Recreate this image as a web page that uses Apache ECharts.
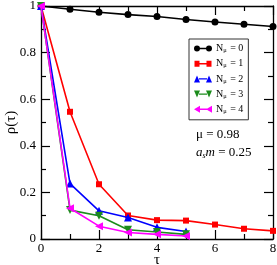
<!DOCTYPE html>
<html><head><meta charset="utf-8">
<script src="https://cdn.jsdelivr.net/npm/echarts@6/dist/echarts.min.js"></script>
<style>html,body{margin:0;padding:0;background:#fff}#c{width:277px;height:265px}</style>
</head><body><div id="c"></div>
<script>
const tau = [0, 1, 2, 3, 4, 5, 6, 7, 8];
const rhoN0 = [1, 0.986, 0.973, 0.963, 0.955, 0.942, 0.931, 0.922, 0.912];
const rhoN1 = [1, 0.546, 0.235, 0.101, 0.081, 0.079, 0.062, 0.044, 0.035];
const rhoN2 = [1, 0.238, 0.121, 0.092, 0.050, 0.032];
const rhoN3 = [1, 0.124, 0.100, 0.040, 0.030, 0.020];
const rhoN4 = [1, 0.132, 0.055, 0.028, 0.020, 0.013];
const seriesNames = ['N0', 'N1', 'N2', 'N3', 'N4'];
const legendLabels = ['0', '1', '2', '3', '4'];
const xTicks = [0, 2, 4, 6, 8];
const yTicks = [0, 0.2, 0.4, 0.6, 0.8, 1];

const colors = ['#000000', '#ff0000', '#0000ff', '#1c8c1c', '#ff00ff'];
const bar = 'M5,3.3 H13 V4.7 H5 Z ';
const icons = [
  'path://' + bar + 'M0,4 A3,3 0 1 1 6,4 A3,3 0 1 1 0,4 Z M12,4 A3,3 0 1 1 18,4 A3,3 0 1 1 12,4 Z M0,0.5 L0,0.5 Z M18,7.5 L18,7.5Z',
  'path://' + bar + 'M0.5,1 H5.5 V7 H0.5 Z M12.5,1 H17.5 V7 H12.5 Z M0,0.5 L0,0.5 Z M18,7.5 L18,7.5Z',
  'path://' + bar + 'M0,7.5 L3,0.5 L6,7.5 Z M12,7.5 L15,0.5 L18,7.5 Z',
  'path://' + bar + 'M0,0.5 L6,0.5 L3,7.5 Z M12,0.5 L18,0.5 L15,7.5 Z',
  'path://' + bar + 'M0,4 L6,0.5 L6,7.5 Z M12,4 L18,0.5 L18,7.5 Z'
];
const datasets = [rhoN0, rhoN1, rhoN2, rhoN3, rhoN4];
const symbols = ['circle', 'rect', 'triangle', 'triangle', 'triangle'];
const symbolSizes = [7, 6, 8, 8, 8];
const rotations = [0, 0, 0, 180, 90];

const font = 'Liberation Serif';
const fmtY = v => { const r = Math.round(v * 10) / 10; return String(r); };

const axisCommon = (isX, show) => ({
  type: 'value',
  min: 0,
  max: isX ? 8 : 1,
  interval: isX ? 2 : 0.2,
  axisLine: { show: true, onZero: false, lineStyle: { color: '#000', width: 1.3 } },
  axisTick: { show: true, inside: true, length: 9, lineStyle: { color: '#000', width: 1.2 } },
  minorTick: { show: true, splitNumber: 2, length: 5, lineStyle: { color: '#000', width: 1.2 } },
  splitLine: { show: false },
  axisLabel: {
    show: show, color: '#000', fontFamily: font, fontSize: 13, margin: isX ? 3 : 5,
    formatter: isX ? (v => String(v)) : fmtY, showMinLabel: true, showMaxLabel: true
  }
});

const xMain = Object.assign(axisCommon(true, true), {
  position: 'bottom', name: 'τ', nameLocation: 'middle', nameGap: 14, nameMoveOverlap: false,
  nameTextStyle: { fontFamily: font, fontSize: 15, color: '#000' }
});
const xTop = Object.assign(axisCommon(true, false), { position: 'top' });
const yMain = Object.assign(axisCommon(false, true), {
  position: 'left', name: 'ρ(τ)', nameLocation: 'middle', nameGap: 22, nameMoveOverlap: false,
  nameTextStyle: { fontFamily: font, fontSize: 15, color: '#000' }
});
const yRight = Object.assign(axisCommon(false, false), { position: 'right' });

const series = datasets.map((d, i) => ({
  name: seriesNames[i],
  type: 'line',
  xAxisIndex: 0, yAxisIndex: 0,
  data: d.map((v, k) => [tau[k], v]),
  symbol: symbols[i],
  symbolSize: symbolSizes[i],
  symbolRotate: rotations[i],
  showAllSymbol: true,
  lineStyle: { color: colors[i], width: 1.6 },
  itemStyle: { color: colors[i] },
  emphasis: { disabled: true },
  animation: false,
  z: 2 + i
}));

const chart = echarts.init(document.getElementById('c'), null, { renderer: 'canvas' });
chart.setOption({
  animation: false,
  grid: { left: 41, right: 4, top: 6, bottom: 26, containLabel: false, outerBoundsMode: 'none' },
  xAxis: [xMain, xTop],
  yAxis: [yMain, yRight],
  legend: {
    orient: 'vertical',
    left: 189, top: 39,
    padding: [4, 5, 5, 5],
    itemWidth: 18, itemHeight: 8, itemGap: 4.2,
    borderColor: '#333', borderWidth: 1, borderRadius: 0,
    backgroundColor: '#fff',
    selectedMode: false,
    data: seriesNames.map((n, i) => ({ name: n, icon: icons[i], itemStyle: { color: colors[i] } })),
    formatter: name => {
      const i = seriesNames.indexOf(name);
      return '{n|N}{s|μ}{n| = ' + legendLabels[i] + '}';
    },
    textStyle: {
      fontFamily: font, fontSize: 10, color: '#000', lineHeight: 10, padding: [0, 0, 0, -1],
      rich: {
        n: { fontFamily: font, fontSize: 10, color: '#000', lineHeight: 10 },
        s: { fontFamily: font, fontSize: 6.5, color: '#000', lineHeight: 6, padding: [4, 1, 0, 0] }
      }
    }
  },
  graphic: [
    {
      type: 'text', left: 196, top: 128,
      style: { text: 'μ = 0.98', font: '13px "Liberation Serif"', fill: '#000' }
    },
    {
      type: 'text', left: 196, top: 146,
      style: {
        text: '{i|a}{s|s}{i|m}{n| = 0.25}',
        fill: '#000',
        rich: {
          i: { fontFamily: font, fontStyle: 'italic', fontSize: 13, fill: '#000' },
          s: { fontFamily: font, fontStyle: 'italic', fontSize: 8, fill: '#000', padding: [7, 0, 0, 0] },
          n: { fontFamily: font, fontSize: 13, fill: '#000' }
        }
      }
    }
  ],
  series: series
});
</script>
</body></html>
